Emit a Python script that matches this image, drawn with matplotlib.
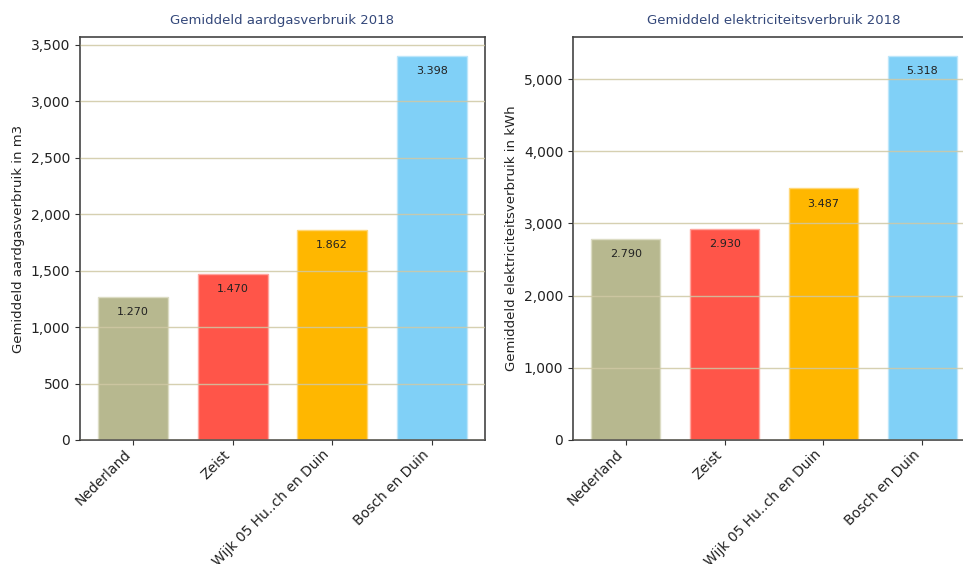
import matplotlib
matplotlib.use('Agg')
import matplotlib.pyplot as plt
from matplotlib.ticker import FuncFormatter

# gebieden en verbruik 2018
gebieden = ['Nederland', 'Zeist', 'Wijk 05 Hu..ch en Duin', 'Bosch en Duin']
gas = [1270, 1470, 1862, 3398]
stroom = [2790, 2930, 3487, 5318]
kleuren = ['#b7b88f', '#ff5549', '#ffb700', '#80d0f7']
randen = ['#dcdcc4', '#ffa59e', '#ffd777', '#bde6fa']

titels = ['Gemiddeld aardgasverbruik 2018', 'Gemiddeld elektriciteitsverbruik 2018']
ylabels = ['Gemiddeld aardgasverbruik in m3', 'Gemiddeld elektriciteitsverbruik in kWh']


def duizend(x, pos):
    return '{:,.0f}'.format(x)


def nl_getal(v):
    return '{:,.0f}'.format(v).replace(',', '.')


def teken(ax, waarden, titel, ylabel):
    x = range(len(gebieden))
    bars = ax.bar(x, waarden, width=0.7, color=kleuren, edgecolor=randen, linewidth=1)
    for b, v in zip(bars, waarden):
        ax.annotate(nl_getal(v), (b.get_x() + b.get_width() / 2, v),
                    xytext=(0, -11), textcoords='offset points',
                    ha='center', va='center', fontsize=8, color='#222222')
    ax.set_title(titel, fontsize=9.5, color='#34487a', pad=9)
    ax.set_ylabel(ylabel, fontsize=9.5, color='#222222')
    ax.yaxis.set_major_formatter(FuncFormatter(duizend))
    ax.set_xticks(list(x))
    ax.set_xticklabels(gebieden, rotation=45, ha='right', rotation_mode='default')
    ax.tick_params(labelsize=10, colors='#333333', labelcolor='#222222')
    ax.tick_params(axis='x', pad=2)
    ax.yaxis.grid(True, color='#cfc8a4', linewidth=1, alpha=0.85)
    ax.set_axisbelow(False)
    for s in ax.spines.values():
        s.set_color('#444444')
        s.set_linewidth(1.2)


fig = plt.figure(figsize=(9.63, 5.64), dpi=100)
ax1 = fig.add_axes([0.0831, 0.2199, 0.4205, 0.7145])
ax2 = fig.add_axes([0.5950, 0.2199, 0.4175, 0.7145])

teken(ax1, gas, titels[0], ylabels[0])
teken(ax2, stroom, titels[1], ylabels[1])
ax1.set_yticks(range(0, 3501, 500))
ax2.set_yticks(range(0, 5001, 1000))

fig.savefig('out.png', dpi=100)
